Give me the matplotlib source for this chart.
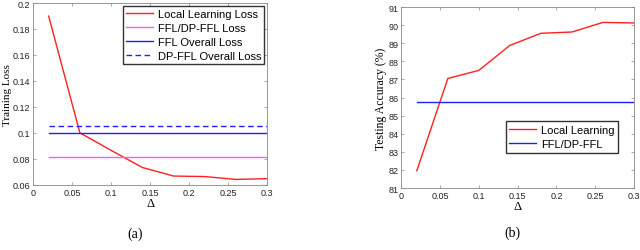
import numpy as np
import matplotlib
matplotlib.use('Agg')
import matplotlib.pyplot as plt

# Delta values (shared x axis)
delta = [0.02, 0.06, 0.10, 0.14, 0.18, 0.22, 0.26, 0.30]

# (a) training loss
local_loss = [0.190, 0.100, 0.0865, 0.0733, 0.0667, 0.0663, 0.0641, 0.0647]
ffl_dp_loss = [0.0812] * len(delta)
ffl_overall = [0.1000] * len(delta)
dp_ffl_overall = [0.1050] * len(delta)

# (b) testing accuracy
local_acc = [81.95, 87.05, 87.50, 88.88, 89.55, 89.62, 90.15, 90.12]
ffl_acc = [85.75] * len(delta)

sans = ['Liberation Sans', 'DejaVu Sans']
serif = ['Liberation Serif', 'DejaVu Serif']
plt.rcParams['font.family'] = sans
plt.rcParams['font.size'] = 6.5

fig = plt.figure(figsize=(6.4, 2.51), dpi=100)
ax1 = fig.add_axes([0.0516, 0.260, 0.366, 0.724])
ax2 = fig.add_axes([0.627, 0.247, 0.3636, 0.721])

# Training loss panel
ax1.plot(delta, local_loss, color='#ff2020', lw=1.0, label='Local Learning Loss')
ax1.plot(delta, ffl_dp_loss, color='#f060f0', lw=1.0, label='FFL/DP-FFL Loss')
ax1.plot(delta, ffl_overall, color='#2020ff', lw=1.0, label='FFL Overall Loss')
ax1.plot(delta, dp_ffl_overall, color='#2020ff', lw=1.0, ls=(0, (4, 2.5)), label='DP-FFL Overall Loss')
ax1.set_xlim(0, 0.3)
ax1.set_ylim(0.06, 0.2)
ax1.set_xticks([0, 0.05, 0.1, 0.15, 0.2, 0.25, 0.3])
ax1.set_xticklabels(['0', '0.05', '0.1', '0.15', '0.2', '0.25', '0.3'])
ax1.set_yticks(np.arange(0.06, 0.201, 0.02))
ax1.set_yticklabels(['0.06', '0.08', '0.1', '0.12', '0.14', '0.16', '0.18', '0.2'])
ax1.set_ylabel('Training Loss', family=serif, fontsize=8, labelpad=0.5)
ax1.set_xlabel('Δ', family=serif, fontsize=9, labelpad=0)
ax1.legend(loc='upper right', fontsize=8, frameon=True, fancybox=False, edgecolor='black',
           borderpad=0.25, labelspacing=0.38, handlelength=2.4, handletextpad=0.5,
           borderaxespad=0.25)

# Testing accuracy panel
ax2.plot(delta, local_acc, color='#ff2020', lw=1.0, label='Local Learning')
ax2.plot(delta, ffl_acc, color='#2020ff', lw=1.0, label='FFL/DP-FFL')
ax2.set_xlim(0, 0.3)
ax2.set_ylim(81, 91)
ax2.set_xticks([0, 0.05, 0.1, 0.15, 0.2, 0.25, 0.3])
ax2.set_xticklabels(['0', '0.05', '0.1', '0.15', '0.2', '0.25', '0.3'])
ax2.set_yticks(range(81, 92))
ax2.set_ylabel('Testing Accuracy (%)', family=serif, fontsize=8.5, labelpad=1)
ax2.set_xlabel('Δ', family=serif, fontsize=9, labelpad=0)
ax2.legend(loc='lower right', bbox_to_anchor=(0.955, 0.165), fontsize=8, frameon=True,
           fancybox=False, edgecolor='black', borderpad=0.3, labelspacing=0.4,
           handlelength=2.4, handletextpad=0.5)

for ax in (ax1, ax2):
    for sp in ax.spines.values():
        sp.set_color('#888888')
        sp.set_linewidth(0.6)
    ax.tick_params(direction='in', length=2, width=0.5, color='#888888', labelsize=6.5,
                   pad=2, top=True, right=True, labelcolor='#222222')

fig.text(135 / 640, 1 - 234 / 251, '(a)', family=serif, fontsize=10, ha='center', va='center')
fig.text(512 / 640, 1 - 233 / 251, '(b)', family=serif, fontsize=10, ha='center', va='center')

fig.savefig('out.png', dpi=100)
